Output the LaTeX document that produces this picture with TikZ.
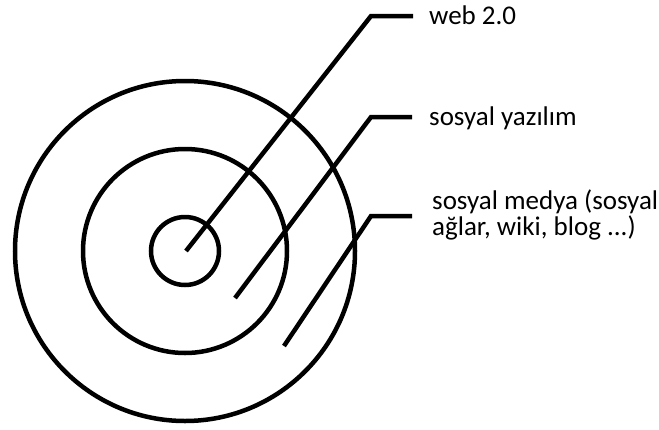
\documentclass[tikz,border=0pt]{standalone}
\usepackage{fontspec}
\setmainfont{Carlito}
\begin{document}
\begin{tikzpicture}[x=1pt,y=-1pt,
  ring/.style={draw, circle, line width=4.5pt, inner sep=0pt},
  lead/.style={line width=4.5pt},
  lbl/.style={anchor=base west, inner sep=0pt, font=\fontsize{27}{26}\selectfont}]
\useasboundingbox (0,0) rectangle (659,429);
\node[ring, minimum size=340pt] (outer) at (185,251) {};
\node[ring, minimum size=204pt] (middle) at (185,251) {};
\node[ring, minimum size=68pt] (inner) at (185,251) {};
\coordinate (s1) at (186,251);
\coordinate (k1) at (371,16);
\coordinate (e1) at (413,16);
\coordinate (s2) at (235,298);
\coordinate (k2) at (371,117);
\coordinate (e2) at (412,117);
\coordinate (s3) at (284,346);
\coordinate (k3) at (371,216);
\coordinate (e3) at (412,216);
\draw[lead] (s1) -- (k1) -- (e1);
\draw[lead] (s2) -- (k2) -- (e2);
\draw[lead] (s3) -- (k3) -- (e3);
\node[lbl] (t1) at (429,24) {web 2.0};
\node[lbl] (t2) at (429,125) {sosyal yazılım};
\node[lbl] (t3a) at (432,209) {sosyal medya (sosyal};
\node[lbl] (t3b) at (432,235) {ağlar, wiki, blog ...)};
\end{tikzpicture}
\end{document}
